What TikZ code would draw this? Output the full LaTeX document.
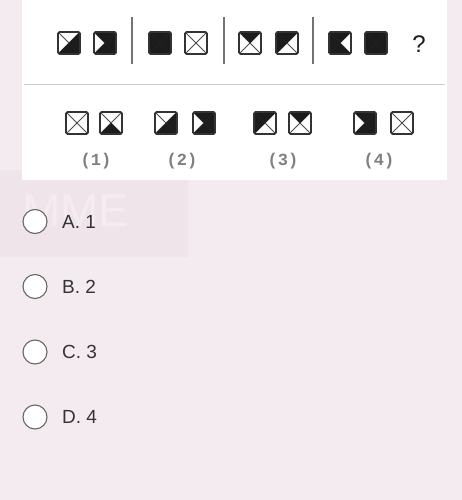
\documentclass[tikz,border=0pt]{standalone}
\usepackage{fontspec}
\setmainfont{Liberation Sans}
\newfontfamily\monob{Liberation Mono}
\definecolor{bgpink}{HTML}{F4EBF1}
\definecolor{wmpink}{HTML}{F0E4EB}
\definecolor{blk}{HTML}{1C1C1C}
\definecolor{txt}{HTML}{333333}
\tikzset{
  sqbox/.style={draw=blk!90, line width=1.6pt, rounded corners=1.5pt, minimum size=22pt, inner sep=0pt},
  diag/.style={draw=black!70, line width=1pt},
  sepline/.style={draw=black!55, line width=1.4pt},
  radio/.style={circle, draw=black!60, line width=1.1pt, fill=white, minimum size=24pt, inner sep=0pt},
  opt/.style={anchor=west, text=txt, font=\fontsize{19}{22}\selectfont, inner sep=0pt},
  numlab/.style={text=black!50, font=\monob\bfseries\fontsize{17}{20}\selectfont, inner sep=0pt}
}
% #1 name, #2 x, #3 y, #4 top, #5 right, #6 bottom, #7 left  (blk or none)
\newcommand\tri[7]{%
  \begin{scope}[shift={(#2,#3)}]
    \fill[white] (-11,-11) rectangle (11,11);
    \draw[diag] (-11,-11) -- (11,11) (11,-11) -- (-11,11);
    \path[fill=#4] (-11,-11) -- (11,-11) -- (0,0) -- cycle;
    \path[fill=#5] (11,-11) -- (11,11) -- (0,0) -- cycle;
    \path[fill=#6] (11,11) -- (-11,11) -- (0,0) -- cycle;
    \path[fill=#7] (-11,11) -- (-11,-11) -- (0,0) -- cycle;
    \node[sqbox] (#1) at (0,0) {};
  \end{scope}}
\begin{document}
\begin{tikzpicture}[x=1pt,y=-1pt]
\useasboundingbox (0,0) rectangle (462,500);
\fill[bgpink] (0,0) rectangle (462,500);
\fill[wmpink] (0,170) rectangle (188,257);
\node[text=white!30!wmpink, font=\fontsize{46}{46}\selectfont, anchor=west, inner sep=0pt] (wm) at (22,211) {MME};
% card
\fill[white] (22,0) rectangle (447,180);
\coordinate (hl) at (24,85);
\coordinate (hr) at (445,85);
\draw[black!20, line width=1pt] (hl) -- (hr);
% top row
\tri{t1}{69}{43}{none}{blk}{blk}{none}
\tri{t2}{105}{43}{blk}{blk}{blk}{none}
\coordinate (s1t) at (132,17); \coordinate (s1b) at (132,64);
\draw[sepline] (s1t) -- (s1b);
\tri{t3}{160}{43}{blk}{blk}{blk}{blk}
\tri{t4}{196}{43}{none}{none}{none}{none}
\coordinate (s2t) at (224,17); \coordinate (s2b) at (224,64);
\draw[sepline] (s2t) -- (s2b);
\tri{t5}{250}{43}{blk}{none}{none}{none}
\tri{t6}{287}{43}{blk}{none}{none}{blk}
\coordinate (s3t) at (313,17); \coordinate (s3b) at (313,64);
\draw[sepline] (s3t) -- (s3b);
\tri{t7}{340}{43}{blk}{none}{blk}{blk}
\tri{t8}{376}{43}{blk}{blk}{blk}{blk}
\node[text=blk, font=\fontsize{24}{24}\selectfont, inner sep=0pt] (q) at (419,44) {?};
% answer row
\tri{a1}{77}{123}{none}{none}{none}{none}
\tri{b1}{111}{123}{none}{none}{blk}{none}
\tri{a2}{166}{123}{none}{blk}{blk}{none}
\tri{b2}{204}{123}{blk}{blk}{blk}{none}
\tri{a3}{265}{123}{blk}{none}{none}{blk}
\tri{b3}{300}{123}{blk}{none}{none}{none}
\tri{a4}{365}{123}{blk}{blk}{blk}{none}
\tri{b4}{402}{123}{none}{none}{none}{none}
\node[numlab] (l1) at (96,161) {(1)};
\node[numlab] (l2) at (182,161) {(2)};
\node[numlab] (l3) at (283,161) {(3)};
\node[numlab] (l4) at (379,161) {(4)};
% options
\node[radio] (rA) at (35,221.5) {};
\node[radio] (rB) at (35,286.5) {};
\node[radio] (rC) at (35,352) {};
\node[radio] (rD) at (35,417) {};
\node[opt] (oA) at (62,221.5) {A. 1};
\node[opt] (oB) at (62,286.5) {B. 2};
\node[opt] (oC) at (62,352) {C. 3};
\node[opt] (oD) at (62,417) {D. 4};
\end{tikzpicture}
\end{document}
